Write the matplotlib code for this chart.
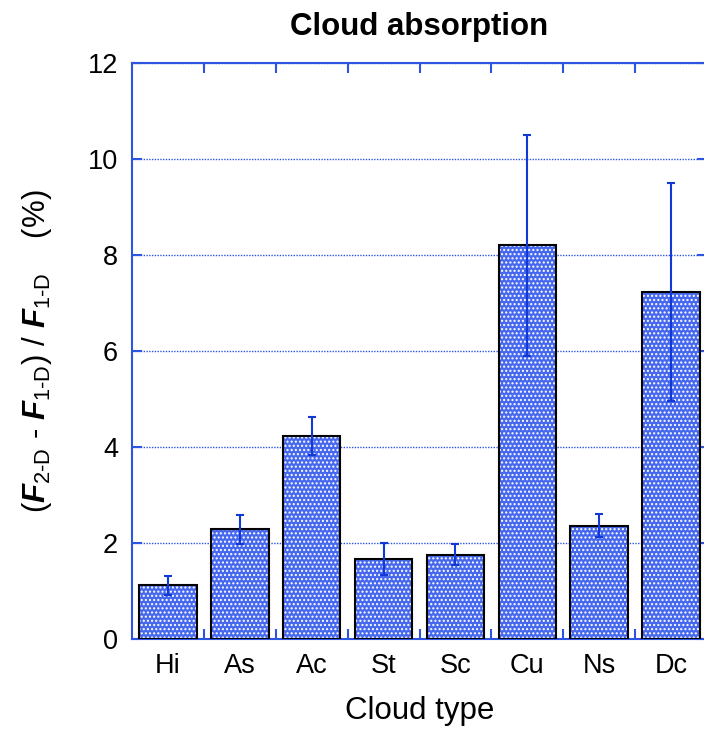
import numpy as np
import matplotlib.pyplot as plt
from matplotlib.ticker import FixedLocator, NullFormatter

plt.rcParams['font.family'] = ['Liberation Sans', 'DejaVu Sans']
plt.rcParams['mathtext.fontset'] = 'custom'
plt.rcParams['mathtext.rm'] = 'Liberation Sans'
plt.rcParams['mathtext.it'] = 'Liberation Sans:bold:italic'
plt.rcParams['hatch.linewidth'] = 1.0

# cloud types and relative absorption difference (%)
clouds = ['Hi', 'As', 'Ac', 'St', 'Sc', 'Cu', 'Ns', 'Dc']
absorb = [1.12, 2.29, 4.23, 1.67, 1.76, 8.2, 2.36, 7.23]
err = [0.2, 0.3, 0.39, 0.34, 0.22, 2.3, 0.24, 2.27]

blue = '#2e55e2'

fig = plt.figure(figsize=(7.04, 7.33), dpi=100)
ax = fig.add_axes([0.1875, 0.1282, 0.8168, 0.7858])

x = np.arange(len(clouds))
# dotted fill: blue face with white dot hatch, then a plain black outline on top
ax.bar(x, absorb, width=0.8, color='#4668ee', edgecolor='white',
       hatch='....', linewidth=0, zorder=2)
ax.bar(x, absorb, width=0.8, fill=False, edgecolor='black',
       linewidth=1.5, zorder=3)
ax.errorbar(x, absorb, yerr=err, fmt='none', ecolor='#1238d8',
            elinewidth=1.5, capsize=3, capthick=1.5, zorder=4)

ax.set_xlim(-0.5, 7.5)
ax.set_ylim(0, 12)
ax.set_yticks(np.arange(0, 13, 2))
ax.set_xticks(x)
ax.set_xticklabels(clouds)
ax.xaxis.set_minor_locator(FixedLocator(np.arange(0.5, 7.5, 1)))
ax.xaxis.set_minor_formatter(NullFormatter())

ax.yaxis.grid(True, color=blue, linestyle=(0, (1, 1)), linewidth=1.0, zorder=1)
ax.set_axisbelow(True)

for s in ax.spines.values():
    s.set_color(blue)
    s.set_linewidth(1.5)

ax.tick_params(axis='x', which='major', length=0, pad=10, labelsize=19.5)
ax.tick_params(axis='x', which='minor', direction='in', length=7,
               width=1.5, color=blue, top=True, bottom=True)
ax.tick_params(axis='y', which='major', direction='in', length=7,
               width=1.5, color=blue, left=True, right=True, pad=10,
               labelsize=19.5)

ax.set_title('Cloud absorption', fontsize=22.5, fontweight='bold', pad=20)
ax.set_xlabel('Cloud type', fontsize=22.5, labelpad=12)
ax.set_ylabel(r'$($$F_{\rm 2\text{-}D}$ - $F_{\rm 1\text{-}D}$$)$ / '
              r'$F_{\rm 1\text{-}D}$    (%)', fontsize=22.5, labelpad=24)

fig.savefig('out.png', dpi=100)
